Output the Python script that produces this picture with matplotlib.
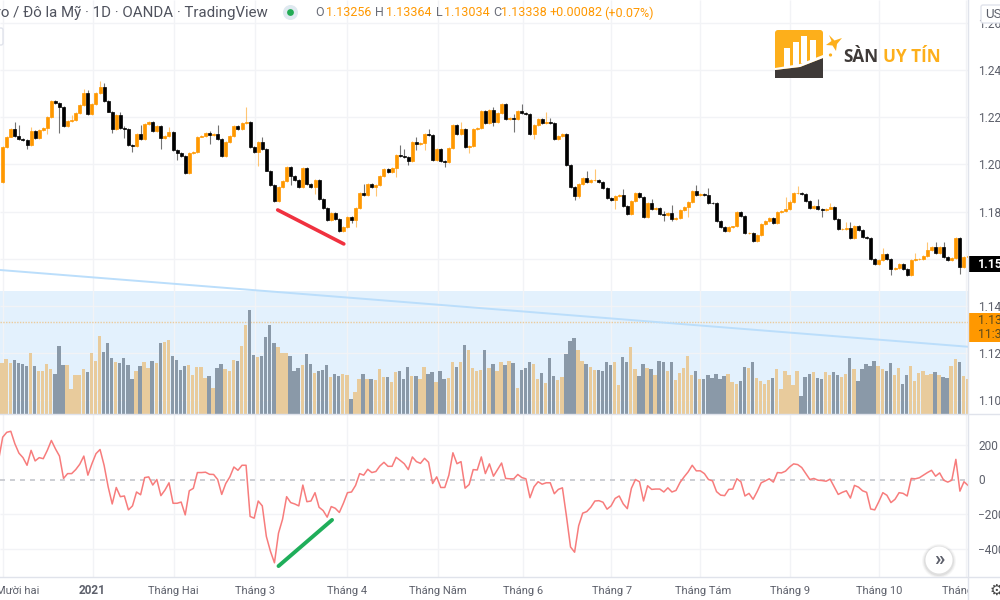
import numpy as np
import matplotlib
matplotlib.use("Agg")
import matplotlib.pyplot as plt
from matplotlib.patches import Circle, FancyBboxPatch, Polygon, Rectangle

plt.rcParams['font.family'] = ['Roboto', 'DejaVu Sans']

# EUR/USD daily candles
first_open = 1.1927
closes = [
    1.2075, 1.2118, 1.2149, 1.2120, 1.2109, 1.2103, 1.2081, 1.2142, 1.2113, 1.2146,
    1.2153, 1.2200, 1.2270, 1.2259, 1.2245, 1.2163, 1.2184, 1.2188, 1.2216, 1.2252,
    1.2304, 1.2214, 1.2255, 1.2301, 1.2327, 1.2270, 1.2224, 1.2150, 1.2209, 1.2153,
    1.2152, 1.2082, 1.2078, 1.2129, 1.2106, 1.2171, 1.2178, 1.2143, 1.2163, 1.2112,
    1.2120, 1.2139, 1.2061, 1.2047, 1.2036, 1.1962, 1.2047, 1.2054, 1.2118, 1.2120,
    1.2132, 1.2123, 1.2129, 1.2106, 1.2036, 1.2094, 1.2120, 1.2163, 1.2151, 1.2174,
    1.2180, 1.2072, 1.2051, 1.2096, 1.2064, 1.1974, 1.1913, 1.1844, 1.1906, 1.1931,
    1.1988, 1.1952, 1.1934, 1.1903, 1.1983, 1.1917, 1.1906, 1.1934, 1.1852, 1.1814,
    1.1764,
    1.1796, 1.1767, 1.1718, 1.1736, 1.1779, 1.1764, 1.1817, 1.1877, 1.1870, 1.1917,
    1.1903, 1.1913, 1.1951, 1.1982, 1.1968, 1.1983, 1.2039, 1.2037, 1.2033, 1.2016,
    1.2096, 1.2087, 1.2092, 1.2127, 1.2125, 1.2019, 1.2067, 1.2013, 1.2009, 1.2068,
    1.2167, 1.2129, 1.2149, 1.2072, 1.2078, 1.2149, 1.2153, 1.2228, 1.2174, 1.2231,
    1.2181, 1.2216, 1.2256, 1.2191, 1.2195, 1.2191, 1.2228, 1.2216, 1.2214, 1.2127,
    1.2167, 1.2191, 1.2174, 1.2178, 1.2174, 1.2106, 1.2120, 1.2130, 1.1997, 1.1906,
    1.1866, 1.1917, 1.1941, 1.1924, 1.1934, 1.1935, 1.1926, 1.1899, 1.1856, 1.1849,
    1.1866, 1.1869, 1.1824, 1.1790, 1.1845, 1.1877, 1.1863, 1.1779, 1.1835, 1.1810,
    1.1814, 1.1790,
    1.1786, 1.1795, 1.1769, 1.1774, 1.1807, 1.1818, 1.1842, 1.1889, 1.1870, 1.1875,
    1.1870, 1.1838, 1.1835, 1.1762, 1.1736, 1.1719, 1.1736, 1.1737, 1.1800, 1.1781,
    1.1708, 1.1711, 1.1677, 1.1701, 1.1747, 1.1762, 1.1772, 1.1753, 1.1800, 1.1803,
    1.1810, 1.1839, 1.1877, 1.1880, 1.1875, 1.1846, 1.1814, 1.1824, 1.1810, 1.1807,
    1.1813, 1.1818, 1.1767, 1.1725, 1.1728, 1.1731, 1.1687, 1.1739, 1.1722, 1.1694,
    1.1687, 1.1598, 1.1577, 1.1595, 1.1620, 1.1598, 1.1558, 1.1560, 1.1578, 1.1558,
    1.1531, 1.1595, 1.1598, 1.1601, 1.1612, 1.1637, 1.1651, 1.1626, 1.1649, 1.1606,
    1.1595, 1.1602, 1.1687, 1.1564, 1.1606, 1.1610,
]
# candles with a long shadow: index -> (pips above body, pips below body)
default_wick = (4, 4)
long_wicks = {
    3: (32, 4), 4: (46, 4), 6: (4, 17), 7: (18, 4), 11: (4, 25), 14: (4, 110), 17: (22, 4),
    20: (15, 4), 21: (10, 4), 24: (25, 4), 25: (20, 4), 27: (4, 15), 29: (14, 4), 30: (8, 40),
    32: (4, 24), 34: (38, 4), 39: (4, 48), 41: (20, 4), 43: (4, 28), 51: (8, 38), 53: (40, 4),
    60: (65, 4), 63: (4, 58), 64: (18, 4), 71: (4, 40), 75: (7, 4), 77: (4, 32),
    86: (4, 14), 87: (4, 28), 89: (40, 4), 92: (4, 35), 97: (4, 38), 98: (44, 4), 99: (30, 4),
    100: (4, 18), 102: (20, 25), 104: (4, 30), 105: (21, 4), 109: (4, 18), 113: (32, 4),
    115: (4, 25), 121: (14, 18), 126: (20, 52), 128: (28, 4), 131: (4, 21), 134: (42, 4),
    135: (17, 4), 141: (4, 17), 142: (4, 10), 144: (32, 4), 146: (45, 4), 151: (4, 40),
    153: (27, 4), 160: (17, 4),
    163: (12, 25), 165: (35, 10), 169: (4, 40), 171: (24, 4), 174: (28, 4), 193: (52, 4),
    194: (10, 4), 196: (30, 4), 201: (28, 4), 202: (4, 30), 204: (17, 4), 208: (27, 4),
    209: (24, 4), 217: (24, 4), 219: (4, 27), 225: (25, 4), 228: (35, 4), 230: (21, 4),
    232: (21, 4), 236: (4, 28),
}
volumes = [
    154, 164, 154, 161, 154, 150, 143, 184, 143, 128, 128, 150, 134, 121, 205, 147, 147, 75, 118, 118,
    134, 125, 182, 159, 234, 187, 212, 168, 157, 152, 168, 147, 104, 130, 143, 155, 139, 159, 152, 212,
    215, 221, 174, 163, 132, 143, 146, 118, 141, 141, 107, 114, 78, 139, 150, 134, 129, 163, 159, 204,
    268, 312, 177, 170, 175, 232, 266, 212, 200, 182, 182, 175, 130, 139, 147, 180, 150, 123, 129, 132,
    147, 111, 120, 115,
    121, 116, 46, 66, 104, 121, 106, 105, 101, 134, 111, 111, 96, 125, 128, 105, 141, 114, 114, 105,
    141, 121, 125, 96, 128, 105, 109, 155, 141, 157, 207, 191, 139, 128, 132, 193, 137, 149, 130, 155,
    146, 159, 152, 79, 132, 137, 155, 150, 105, 123, 93, 168, 114, 103, 112, 180, 220, 227, 191, 158,
    150, 141, 132, 132, 130, 155, 146, 157, 86, 170, 157, 200, 134, 114, 150, 137, 134, 118, 159, 157,
    128,
    157, 102, 123, 139, 175, 116, 128, 106, 104, 118, 109, 121, 104, 114, 121, 96, 91, 98, 141, 137,
    155, 107, 100, 91, 102, 109, 134, 75, 130, 118, 88, 128, 53, 111, 121, 125, 109, 105, 125, 118,
    125, 118, 111, 121, 168, 134, 98, 134, 150, 144, 159, 144, 134, 128, 152, 118, 137, 91, 118, 144,
    100, 123, 130, 116, 121, 125, 118, 111, 107, 144, 165, 157, 114, 104,
]
# CCI, starts one bar before the first visible candle
cci = [
    114, 244, 272, 278, 206, 152, 126, 82, 168, 107, 126, 120, 168, 225, 177, 135, 6, 34, 34, 57,
    88, 135, 25, 91, 149, 173, 82, -42, -141, -46, -99, -95, -175, -152, -72, -88, 11, 15, -32, 0,
    -93, -61, -19, -137, -137, -130, -204, -65, -51, 40, 40, 42, 30, 29, 0, -86, -23, 15, 72, 53,
    82, 82, -213, -223, -124, -152, -328, -413, -480, -309, -229, -99, -133, -141, -152, -32, -128, -124, -76, -160,
    -179, -217, -156, -166, -190,
    -137, -76, -72, -34, 34, 25, 59, 40, 46, 78, 99, 76, 76, 128, 110, 91, 57, 130, 103, 93,
    122, 99, -23, 15, -46, -46, 25, 154, 91, 103, -50, -29, 57, 55, 130, 34, 90, 19, 57, 95,
    6, 4, 4, 29, 11, 4, -105, -42, -13, -27, -19, -19, -82, -57, -48, -213, -389, -419, -267, -194,
    -185, -160, -124, -122, -131, -171, -152, -109, -95, -141, -168, -51, 0, -13, -124, -36, -57, -55, -55, -72,
    -48, -72, -63, -17,
    15, 44, 82, 50, 50, 34, 0, -8, -70, -90, -93, -57, -55, 4, -13, -95, -80, -114, -70, -19,
    -8, 4, -15, 40, 38, 48, 72, 90, 86, 69, 34, 0, 6, -4, -6, -10, 2, -42, -86, -74,
    -65, -107, -34, -44, -65, -74, -170, -175, -128, -76, -91, -133, -114, -76, -80, -95, 6, 4, 10, 25,
    40, 53, 19, 38, -4, -15, -4, 116, -67, -13, -34,
]

month_labels = ["Mười hai", "2021", "Tháng Hai", "Tháng 3", "Tháng 4", "Tháng Năm", "Tháng 6",
                "Tháng 7", "Tháng Tám", "Tháng 9", "Tháng 10", "Tháng 11"]
month_label_idx = [3.8, 22.0, 42.0, 62.2, 85.0, 107.2, 128.2, 150.2, 172.7, 194.2, 216.0, 237.2]
month_grid_idx = [0, 22.2, 42.2, 62.2, 85, 107.2, 128.2, 150, 172, 194, 216, 237.5]

price_grid = [1.10, 1.12, 1.14, 1.16, 1.18, 1.20, 1.22, 1.24, 1.26]
price_ticks = [1.10, 1.12, 1.14, 1.18, 1.20, 1.22, 1.24, 1.26]
cci_ticks = [-400, -200, 0, 200]
cci_tick_labels = ["\u2212400", "\u2212200", "0", "200"]

band_bottom, band_top = 1.0942, 1.1464
last_price = 1.13338
blue_line_idx, blue_line_price = [-1, 239], [1.1553, 1.1226]
red_line_idx, red_line_price = [67.8, 84.1], [1.1807, 1.1663]
green_line_idx, green_line_cci = [68.0, 81.2], [-499, -233]

UP = "#FF9800"
DOWN = "#000000"
VOL_UP = "#E8CB9C"
VOL_DOWN = "#8A99A8"
GRID = "#F2F3F6"
AXIS_LINE = "#E0E3EB"
TEXT = "#5D606B"
LOGO_ORANGE = "#FDAF1B"
LOGO_DARK = "#3F3A38"

# pixel layout of the panes
W, H = 1000, 600
PANE_R, PANE_SPLIT, PANE_B = 968, 414, 577
BAR_DX = 4.056
FIRST_BAR_PX = 2.7
xlim = (-FIRST_BAR_PX / BAR_DX, (PANE_R - FIRST_BAR_PX) / BAR_DX)

closes = np.array(closes)
opens = np.r_[first_open, closes[:-1]]
idx = np.arange(len(closes))
up = closes >= opens
upper = np.array([long_wicks.get(i, default_wick)[0] for i in idx]) / 1e4
lower = np.array([long_wicks.get(i, default_wick)[1] for i in idx]) / 1e4
highs = np.maximum(opens, closes) + upper
lows = np.minimum(opens, closes) - lower

fig = plt.figure(figsize=(10, 6), dpi=100, facecolor="white")


def pane(top, bottom, right=PANE_R):
    return fig.add_axes([0, 1 - bottom / H, right / W, (bottom - top) / H])


# price pane
ax = pane(0, PANE_SPLIT)
ax.set_xlim(xlim)
ax.set_ylim(1.24 - (PANE_SPLIT - 70) / 2360, 1.24 + 70 / 2360)
ax.axhspan(band_bottom, band_top, color="#E3F1FD", lw=0, zorder=0)
ax.hlines(price_grid, *xlim, color=GRID, lw=1, zorder=1)
ax.vlines(month_grid_idx, *ax.get_ylim(), color=GRID, lw=1, zorder=1)
ax.yaxis.tick_right()
ax.set_yticks(price_ticks)
ax.set_yticklabels([f"{t:.2f}" for t in price_ticks])
ax.tick_params(axis="y", length=0, pad=7.5, labelsize=8.6, labelcolor=TEXT)
ax.set_xticks([])

for c, body in ((UP, up), (DOWN, ~up)):
    ax.vlines(idx[body], lows[body], highs[body], color=c, lw=0.8, alpha=0.55, zorder=3)
    ax.bar(idx[body], np.abs(closes - opens)[body], bottom=np.minimum(opens, closes)[body],
           width=0.74, color=c, edgecolor=c, lw=0.5, zorder=4)
ax.plot(red_line_idx, red_line_price, color="#F0313F", lw=2.6, solid_capstyle="round", zorder=6)
ax.plot(blue_line_idx, blue_line_price, color="#BBDEFB", lw=1.4, zorder=5)
ax.hlines(last_price, *xlim, color="#EBCB9C", lw=1, linestyles=(0, (1, 1)), zorder=2)
for s in ax.spines.values():
    s.set_visible(False)

# volume sits on the bottom of the price pane
ax_vol = pane(0, PANE_SPLIT)
ax_vol.patch.set_visible(False)
ax_vol.set_xlim(xlim)
ax_vol.set_ylim(0, PANE_SPLIT * 3)
vol_colors = [VOL_UP if u else VOL_DOWN for u in up]
ax_vol.bar(np.arange(len(volumes)) - 0.15, volumes, width=0.84, color=vol_colors, lw=0)
ax_vol.axis("off")

# CCI pane
ax_cci = pane(PANE_SPLIT, PANE_B)
ax_cci.set_xlim(xlim)
ax_cci.set_ylim((479.5 - PANE_B) / 0.1735, (479.5 - PANE_SPLIT) / 0.1735)
ax_cci.hlines([-400, -200, 200], *xlim, color=GRID, lw=1, zorder=1)
ax_cci.vlines(month_grid_idx, *ax_cci.get_ylim(), color=GRID, lw=1, zorder=1)
ax_cci.axhline(0, color="#C4C6CC", lw=1.2, ls=(0, (3, 3)), zorder=2)
ax_cci.plot(np.arange(len(cci)) - 1, cci, color="#F77C7C", lw=1.1, zorder=3)
ax_cci.plot(green_line_idx, green_line_cci, color="#1FAE5A", lw=2.8, solid_capstyle="round", zorder=4)
ax_cci.yaxis.tick_right()
ax_cci.set_yticks(cci_ticks)
ax_cci.set_yticklabels(cci_tick_labels)
ax_cci.tick_params(axis="y", length=0, pad=7.5, labelsize=8.6, labelcolor=TEXT)
ax_cci.set_xticks([])
for s in ax_cci.spines.values():
    s.set_visible(False)

# time strip, labels get clipped at the price scale
ax_time = fig.add_axes([0, 0, PANE_R / W, (H - PANE_B) / H])
ax_time.set_xlim(xlim)
ax_time.set_ylim(H, PANE_B)
ax_time.axis("off")
for pos, label in zip(month_label_idx, month_labels):
    ax_time.text(pos, 590.5, label, ha="center", va="center", fontsize=8.5 if label == "2021" else 8,
                 color=TEXT, clip_on=True, fontweight="bold" if label == "2021" else "normal")

# everything that is screen furniture goes on a pixel overlay
over = fig.add_axes([0, 0, 1, 1], zorder=10)
over.patch.set_visible(False)
over.set_xlim(0, W)
over.set_ylim(H, 0)
over.axis("off")
over.plot([0, W], [PANE_SPLIT, PANE_SPLIT], color=AXIS_LINE, lw=1)
over.plot([0, W], [PANE_B, PANE_B], color=AXIS_LINE, lw=1)
over.plot([PANE_R, PANE_R], [0, H], color=AXIS_LINE, lw=1)

# header
over.text(268, 12.5, "Euro / Đô la Mỹ · 1D · OANDA · TradingView", ha="right", va="center",
          fontsize=10.8, color="#50535E")
over.add_patch(Circle((290.5, 12.5), 7.5, color="#DFE9F0", lw=0))
over.add_patch(Circle((290.5, 12.5), 3.4, color="#22AB54", lw=0))
head_letters = [("O", 315), ("H", 375), ("L", 436), ("C", 493)]
head_values = [("1.13256", 326), ("1.13364", 386), ("1.13034", 444), ("1.13338", 501),
               ("+0.00082", 549), ("(+0.07%)", 604)]
for s, x in head_letters:
    over.text(x, 13, s, ha="left", va="center", fontsize=9, color="#6A6D78")
for s, x in head_values:
    over.text(x, 13, s, ha="left", va="center", fontsize=9, color=UP)
over.add_patch(FancyBboxPatch((-6, 28), 9, 17, boxstyle="round,pad=0,rounding_size=2",
                              fc="white", ec=AXIS_LINE, lw=1))

# currency box and price tags
over.add_patch(FancyBboxPatch((981, 5), 30, 18, boxstyle="round,pad=0,rounding_size=2",
                              fc="white", ec=AXIS_LINE, lw=1))
over.text(985, 14, "USD", ha="left", va="center", fontsize=9.5, color=TEXT, clip_on=True)
over.add_patch(Rectangle((PANE_R, 256), W - PANE_R, 16, color="black", lw=0))
over.text(978, 264, "1.15", ha="left", va="center", fontsize=8.8, color="white", fontweight="bold")
over.add_patch(Rectangle((PANE_R, 313), W - PANE_R, 29, color=UP, lw=0))
over.text(978, 321, "1.13", ha="left", va="center", fontsize=8.8, color="#5B4A1E")
over.text(978, 334, "11:3", ha="left", va="center", fontsize=8.8, color="#5B4A1E")

# logo
over.add_patch(FancyBboxPatch((777, 32), 44, 44, boxstyle="round,pad=2,rounding_size=3",
                              fc=LOGO_ORANGE, ec="none"))
over.add_patch(Polygon([(775, 70), (800, 67), (823, 58), (823, 78), (775, 78)], fc=LOGO_DARK, ec="none"))
over.add_patch(Polygon([(775, 70), (800, 67), (823, 58), (823, 55), (800, 64), (775, 68)], fc="white", ec="none"))
for x0, top, bottom in [(784, 48, 68), (793, 42, 66), (801, 36, 63), (810, 40, 60)]:
    over.add_patch(Rectangle((x0, top), 5.5, bottom - top, fc="white", ec="none"))
over.add_patch(Polygon([(829, 35), (834.5, 40.5), (842, 38), (837, 44), (836, 51), (832.5, 45.5), (826, 45), (831.5, 41)],
                       fc=LOGO_ORANGE, ec="none"))
over.add_patch(Circle((830.5, 55), 1.6, color=LOGO_ORANGE, lw=0))
over.text(843, 57, "SÀN", ha="left", va="center", fontsize=12.3, fontweight="bold",
          color=LOGO_DARK, family="Open Sans")
over.text(883, 57, "UY TÍN", ha="left", va="center", fontsize=12.3, fontweight="bold",
          color=LOGO_ORANGE, family="Open Sans")

# scroll button and gear
for r, a in ((17, 0.03), (16, 0.04), (15, 0.06)):
    over.add_patch(Circle((939, 561), r, color="black", alpha=a, lw=0))
over.add_patch(Circle((939, 560), 13.5, color="white", lw=0))
over.text(939, 559, "»", ha="center", va="center", fontsize=15, fontweight="bold", color="#5D606B")
over.text(996, 590, "\u2699", ha="center", va="center", fontsize=11, color="#444444", family="DejaVu Sans")

fig.savefig("out.png", dpi=100, facecolor="white")
